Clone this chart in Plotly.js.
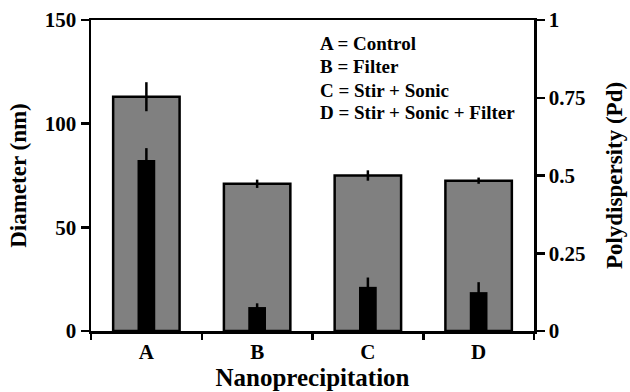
<!DOCTYPE html>
<html>
<head>
<meta charset="utf-8">
<script src="https://cdn.plot.ly/plotly-3.0.1.min.js"></script>
<style>html,body{margin:0;padding:0;background:#fff;}#chart{width:630px;height:392px;}</style>
</head>
<body>
<div id="chart"></div>
<script>
var categories = ["A", "B", "C", "D"];
var diameter = [113, 71, 75, 72.5];
var diameterErr = [7, 2, 2.5, 1.5];
var polydispersity = [0.55, 0.077, 0.142, 0.125];
var polydispersityErr = [0.038, 0.012, 0.03, 0.032];
var legendLines = ["A = Control", "B = Filter", "C = Stir + Sonic", "D = Stir + Sonic + Filter"];
var pdTicks = [0, 0.25, 0.5, 0.75, 1];
var pdTickText = ["0", "0.25", "0.5", "0.75", "1"];

var font = "'Liberation Serif', 'Times New Roman', serif";

var traces = [
  {
    type: "bar", x: categories, y: diameter, yaxis: "y", width: 0.6,
    marker: {color: "#808080", line: {color: "#000", width: 2.5}},
    error_y: {type: "data", array: diameterErr, visible: true, color: "#000", thickness: 2.5, width: 0},
    hoverinfo: "skip"
  },
  {
    type: "bar", x: categories, y: polydispersity, yaxis: "y2", width: 0.16,
    marker: {color: "#000", line: {color: "#000", width: 0}},
    error_y: {type: "data", array: polydispersityErr, visible: true, color: "#000", thickness: 2.5, width: 0},
    hoverinfo: "skip"
  }
];

var legendY = [0.923, 0.849, 0.774, 0.704];
var annotations = legendLines.map(function (t, i) {
  return {
    text: t, xref: "paper", yref: "paper", x: 0.512, y: legendY[i],
    xanchor: "left", yanchor: "middle", showarrow: false,
    font: {family: font, size: 19, color: "#000", weight: "bold"}
  };
});

var layout = {
  width: 630, height: 392,
  margin: {l: 91, r: 96, t: 20, b: 61},
  paper_bgcolor: "#fff", plot_bgcolor: "#fff",
  showlegend: false,
  barmode: "overlay",
  font: {family: font, color: "#000", weight: "bold"},
  xaxis: {
    type: "category", range: [-0.5, 3.5], tickson: "boundaries",
    ticks: "outside", ticklen: 6, tickwidth: 2.5, tickcolor: "#000",
    showline: true, linewidth: 2.5, linecolor: "#000", mirror: true,
    showgrid: false, zeroline: false,
    tickfont: {family: font, size: 21, color: "#000", weight: "bold"},
    title: {text: "Nanoprecipitation", font: {family: font, size: 25, color: "#000", weight: "bold"}, standoff: 5}
  },
  yaxis: {
    range: [0, 150], tickvals: [0, 50, 100, 150],
    ticks: "outside", ticklen: 8, tickwidth: 2.5, tickcolor: "#000",
    showline: true, linewidth: 2.5, linecolor: "#000",
    showgrid: false, zeroline: false,
    tickfont: {family: font, size: 21, color: "#000", weight: "bold"},
    title: {text: "Diameter (nm)", font: {family: font, size: 23, color: "#000", weight: "bold"}, standoff: 12}
  },
  yaxis2: {
    overlaying: "y", side: "right", range: [0, 1],
    tickvals: pdTicks, ticktext: pdTickText,
    ticks: "outside", ticklen: 8, tickwidth: 2.5, tickcolor: "#000",
    showline: true, linewidth: 2.5, linecolor: "#000",
    showgrid: false, zeroline: false,
    tickfont: {family: font, size: 21, color: "#000", weight: "bold"},
    title: {text: "Polydispersity (Pd)", font: {family: font, size: 23, color: "#000", weight: "bold"}, standoff: 22}
  },
  annotations: annotations
};

Plotly.newPlot("chart", traces, layout, {displayModeBar: false, staticPlot: true});
</script>
</body>
</html>
